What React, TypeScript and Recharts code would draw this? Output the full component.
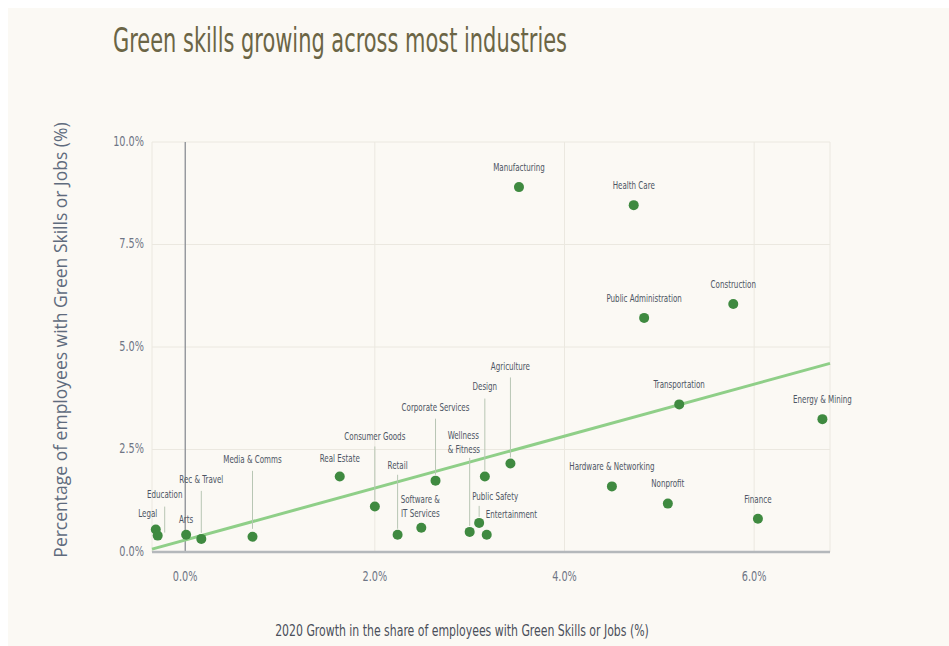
import { ScatterChart, Scatter, XAxis, YAxis, CartesianGrid, ReferenceLine } from 'recharts'

const industries = [
  'Legal', 'Education', 'Arts', 'Rec & Travel', 'Media & Comms', 'Real Estate',
  'Consumer Goods', 'Retail', 'Software & IT Services', 'Corporate Services',
  'Wellness & Fitness', 'Public Safety', 'Entertainment', 'Design', 'Agriculture',
  'Manufacturing', 'Hardware & Networking', 'Health Care', 'Public Administration',
  'Nonprofit', 'Transportation', 'Construction', 'Finance', 'Energy & Mining',
]
const growth = [
  -0.31, -0.29, 0.01, 0.17, 0.71, 1.63,
  2.0, 2.24, 2.49, 2.64,
  3.0, 3.1, 3.18, 3.16, 3.43,
  3.52, 4.5, 4.73, 4.84,
  5.09, 5.21, 5.78, 6.04, 6.72,
]
const share = [
  0.55, 0.4, 0.42, 0.32, 0.37, 1.84,
  1.11, 0.42, 0.59, 1.74,
  0.49, 0.71, 0.42, 1.84, 2.16,
  8.9, 1.6, 8.46, 5.71,
  1.18, 3.6, 6.05, 0.81, 3.24,
]
const trendX = [-0.35, 6.8]
const trendY = [0.07, 4.6]
const xTicks = [0, 2, 4, 6]
const yTicks = [0, 2.5, 5, 7.5, 10]

const points = industries.map((name, i) => ({ name, x: growth[i], y: share[i] }))
const trend = trendX.map((x, i) => ({ x, y: trendY[i] }))

// where each label sits relative to its dot (px); lx shifts the leader line
type Layout = {
  dx?: number
  dy?: number
  anchor?: 'start' | 'middle'
  lead?: [number, number]
  lx?: number
  lines?: string[]
}
const layout: Record<string, Layout> = {
  Legal: { dx: -8, dy: -15 },
  Education: { dx: 7, dy: -40, lead: [-29, -3], lx: 7 },
  Arts: { dy: -15 },
  'Rec & Travel': { dy: -59, lead: [-48, -6] },
  'Media & Comms': { dy: -77, lead: [-66, -8] },
  'Real Estate': { dy: -17 },
  'Consumer Goods': { dy: -69, lead: [-60, -6] },
  Retail: { dy: -69, lead: [-60, -6] },
  'Software & IT Services': { dx: -1, dy: -28, lines: ['Software &', 'IT Services'] },
  'Corporate Services': { dy: -73, lead: [-62, -6] },
  'Wellness & Fitness': { dx: -22, dy: -96, anchor: 'start', lead: [-74, -6], lines: ['Wellness', '& Fitness'] },
  'Public Safety': { dx: -7, dy: -26, anchor: 'start', lead: [-17, -6] },
  Entertainment: { dx: -1, dy: -20, anchor: 'start' },
  Design: { dy: -89, lead: [-78, -6] },
  Agriculture: { dy: -96, lead: [-86, -6] },
}

const font = '"DejaVu Sans Condensed", "DejaVu Sans", sans-serif'

// the source uses a very narrow face, so squeeze the text horizontally
function Narrow({ x, y, anchor = 'middle', size, fill, sx, children }: any) {
  return (
    <text
      transform={`translate(${x},${y}) scale(${sx},1)`}
      textAnchor={anchor}
      dominantBaseline="middle"
      fontSize={size}
      fontFamily={font}
      fill={fill}
    >
      {children}
    </text>
  )
}

function Dot(props: any) {
  const { cx, cy, payload } = props
  const l = layout[payload.name] || {}
  const dx = l.dx ?? 0
  const dy = l.dy ?? -19
  const lines = l.lines ?? [payload.name]
  const lx = cx + (l.lx ?? 0)
  return (
    <g>
      {l.lead && (
        <line x1={lx} x2={lx} y1={cy + l.lead[0]} y2={cy + l.lead[1]} stroke="#b8c6b4" strokeWidth={1} />
      )}
      <circle cx={cx} cy={cy} r={5} fill="#3f8a40" />
      {lines.map((t, i) => (
        <Narrow key={i} x={cx + dx} y={cy + dy + i * 14} anchor={l.anchor ?? 'middle'} size={11} fill="#4d5563" sx={0.72}>
          {t}
        </Narrow>
      ))}
    </g>
  )
}

const pct = (v: number) => `${v.toFixed(1)}%`

function XTick(props: any) {
  const { x, y, payload } = props
  return (
    <Narrow x={x} y={y + 17} size={13.5} fill="#6e7585" sx={0.8}>
      {pct(payload.value)}
    </Narrow>
  )
}

function YTick(props: any) {
  const { x, y, payload } = props
  return (
    <Narrow x={x} y={y} anchor="end" size={13.5} fill="#6e7585" sx={0.8}>
      {pct(payload.value)}
    </Narrow>
  )
}

export default function App() {
  return (
    <div style={{ position: 'absolute', left: 0, top: 0, width: 949, height: 646, background: '#ffffff' }}>
      <div style={{ position: 'absolute', left: 8, top: 8, width: 941, height: 638, background: '#fbf9f4' }} />
      <svg width={949} height={646} style={{ position: 'absolute', left: 0, top: 0 }}>
        <text
          x={113}
          y={52}
          fontSize={34}
          fontFamily={font}
          fill="#6b6545"
          textLength={454}
          lengthAdjust="spacingAndGlyphs"
        >
          Green skills growing across most industries
        </text>
        <Narrow x={462} y={632} size={15} fill="#4a4f5a" sx={0.81}>
          2020 Growth in the share of employees with Green Skills or Jobs (%)
        </Narrow>
        <text
          transform="translate(62,340) rotate(-90)"
          textAnchor="middle"
          dominantBaseline="middle"
          fontSize={17.5}
          fontFamily='"Open Sans", sans-serif'
          fill="#5f6b7d"
        >
          Percentage of employees with Green Skills or Jobs (%)
        </text>
      </svg>
      <div style={{ position: 'absolute', left: 0, top: 0 }}>
        <ScatterChart width={949} height={646} margin={{ top: 142, right: 119, bottom: 0, left: 0 }}>
          <CartesianGrid stroke="#ebe8e0" strokeWidth={1} />
          <XAxis
            type="number"
            dataKey="x"
            domain={[-0.35, 6.8]}
            ticks={xTicks}
            height={94}
            tickLine={false}
            axisLine={{ stroke: '#b4b8bb', strokeWidth: 2.5 }}
            tick={<XTick />}
          />
          <YAxis
            type="number"
            dataKey="y"
            domain={[0, 10]}
            ticks={yTicks}
            width={152}
            tickLine={false}
            axisLine={false}
            tick={<YTick />}
          />
          <ReferenceLine x={0} stroke="#6f7480" strokeWidth={1} />
          <Scatter
            data={trend}
            line={{ stroke: '#8fcf88', strokeWidth: 3 }}
            shape={() => null}
            isAnimationActive={false}
          />
          <Scatter data={points} shape={Dot} isAnimationActive={false} />
        </ScatterChart>
      </div>
    </div>
  )
}
